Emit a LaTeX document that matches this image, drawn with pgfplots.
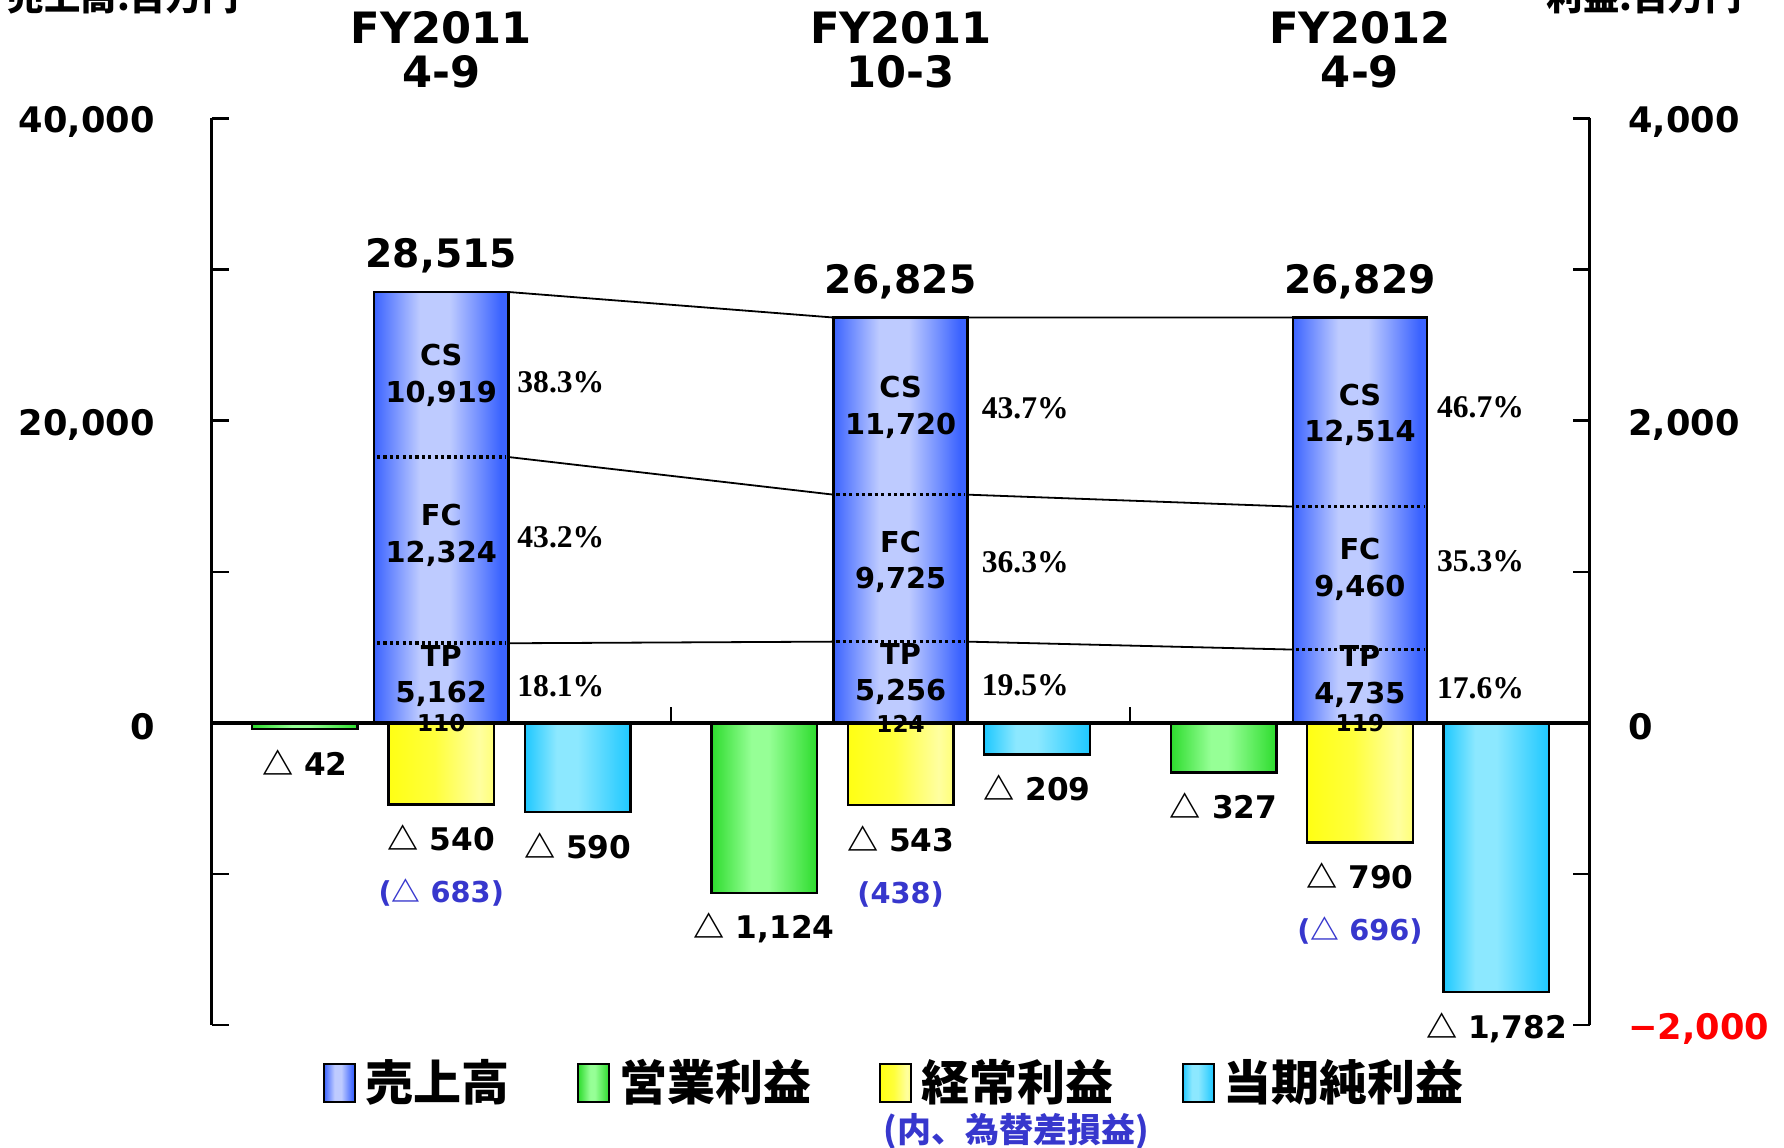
\documentclass[border=0pt]{standalone}
\usepackage{pgfplots}
\pgfplotsset{compat=1.18}
\usepackage{fontspec}
\newfontfamily\dv{DejaVu Sans}
\newfontfamily\jp{Noto Sans CJK JP}
\newfontfamily\tnr{Liberation Serif}
\protected\def\tri{{\jp △}}

\definecolor{sD}{RGB}{60,100,255}
\definecolor{sL}{RGB}{190,203,255}
\definecolor{gD}{RGB}{45,220,45}
\definecolor{gL}{RGB}{150,255,150}
\definecolor{yD}{RGB}{255,255,20}
\definecolor{yM}{RGB}{255,255,60}
\definecolor{yL}{RGB}{255,255,160}
\definecolor{yR}{RGB}{255,255,120}
\definecolor{cD}{RGB}{30,200,255}
\definecolor{cL}{RGB}{140,232,255}
\definecolor{lblue}{RGB}{55,55,205}

% horizontal shadings, the bar covers 25bp..75bp
\pgfdeclarehorizontalshading{salesSh}{100bp}{color(0bp)=(sD); color(25bp)=(sD); color(42bp)=(sL); color(53bp)=(sL); color(72bp)=(sD); color(100bp)=(sD)}
\pgfdeclarehorizontalshading{opSh}{100bp}{color(0bp)=(gD); color(25bp)=(gD); color(44bp)=(gL); color(52bp)=(gL); color(75bp)=(gD); color(100bp)=(gD)}
\pgfdeclarehorizontalshading{ordSh}{100bp}{color(0bp)=(yD); color(25bp)=(yD); color(47bp)=(yM); color(68bp)=(yL); color(75bp)=(yR); color(100bp)=(yR)}
\pgfdeclarehorizontalshading{netSh}{100bp}{color(0bp)=(cD); color(25bp)=(cD); color(40bp)=(cL); color(50bp)=(cL); color(75bp)=(cD); color(100bp)=(cD)}

\newcommand\tickfont{\dv\bfseries\fontsize{8.8}{10}\selectfont}
\newcommand\negfont{\dv\bfseries\fontsize{7.8}{9}\selectfont}

\pgfplotsset{
  legbox/.style={legend image code/.code={\draw[##1, line width=0.5pt] (0pt,-4.75pt) rectangle (7.75pt,4.75pt);}},
  salesbar/.style={ybar, bar width=0.292, bar shift=0, shade, shading=salesSh, draw=black, line width=0.6pt, legbox,
    nodes near coords, point meta=explicit symbolic,
    every node near coord/.append style={font=\dv\bfseries\fontsize{9.8}{11}\selectfont,
      anchor=base, inner sep=0pt, yshift=6pt}},
  opbar/.style={bar shift=-0.297, shade, shading=opSh, draw=black, line width=0.6pt, legbox},
  ordbar/.style={bar shift=0, shade, shading=ordSh, draw=black, line width=0.6pt, legbox},
  netbar/.style={bar shift=0.297, shade, shading=netSh, draw=black, line width=0.6pt, legbox},
  base/.style={at={(52.9pt,30.45pt)}, anchor=south west, scale only axis,
    width=344.5pt, height=226.7pt, xmin=-0.5, xmax=2.5,
    axis x line=none, clip=false, tick align=inside, major tick length=4.25pt,
    every tick/.style={black, line width=0.6pt}, axis line style={line width=0.6pt},
    xtick=\empty, scaled y ticks=false},
}

\begin{document}
\begin{tikzpicture}
% sales, left axis
\begin{axis}[base, axis y line*=left,
  ymin=-20000, ymax=40000,
  ytick={-20000,-10000,0,10000,20000,30000,40000},
  yticklabels={{},{},0,{},{20,000},{},{40,000}},
  yticklabel style={font=\tickfont, inner sep=0pt, anchor=east, xshift=-14pt, yshift=-1pt}]
% one plot per bar so that each bar gets its own shading
\addplot[salesbar] coordinates {(0,28515) [28,515]};
\addplot[salesbar] coordinates {(1,26825) [26,825]};
\addplot[salesbar] coordinates {(2,26829) [26,829]};
% segment borders CS / FC / TP
\addplot[mark=none, black, line width=0.9pt, dash pattern=on 0.8pt off 0.8pt, unbounded coords=jump]
  coordinates {(-0.14,5272) (0.14,5272) (nan,nan) (-0.14,17596) (0.14,17596) (nan,nan)
               (0.86,5380) (1.14,5380) (nan,nan) (0.86,15105) (1.14,15105) (nan,nan)
               (1.86,4854) (2.14,4854) (nan,nan) (1.86,14314) (2.14,14314)};
% connector lines between the bars
\addplot[mark=none, black, line width=0.45pt, unbounded coords=jump]
  coordinates {(0.146,28515) (0.854,26825) (nan,nan) (1.146,26825) (1.854,26829)};
\addplot[mark=none, black, line width=0.45pt, unbounded coords=jump]
  coordinates {(0.146,17596) (0.854,15105) (nan,nan) (1.146,15105) (1.854,14314)};
\addplot[mark=none, black, line width=0.45pt, unbounded coords=jump]
  coordinates {(0.146,5272) (0.854,5380) (nan,nan) (1.146,5380) (1.854,4854)};

\tikzset{seg/.style={font=\dv\bfseries\fontsize{7.2}{9.15}\selectfont, align=center, inner sep=0pt},
         pct/.style={font=\tnr\bfseries\fontsize{7.9}{9}\selectfont, anchor=west, inner sep=0pt},
         fy/.style={font=\dv\bfseries\fontsize{10.8}{10.9}\selectfont, align=center, inner sep=0pt}}
\node[seg] at (axis cs:0,23017) {CS\\10,919};
\node[seg] at (axis cs:0,12432) {FC\\12,324};
\node[seg] at (axis cs:0,3116) {TP\\5,162};
\node[seg] at (axis cs:1,20867) {CS\\11,720};
\node[seg] at (axis cs:1,10665) {FC\\9,725};
\node[seg] at (axis cs:1,3235) {TP\\5,256};
\node[seg] at (axis cs:2,20390) {CS\\12,514};
\node[seg] at (axis cs:2,10149) {FC\\9,460};
\node[seg] at (axis cs:2,3076) {TP\\4,735};

\node[pct] at (axis cs:0.164,22554) {38.3\%};
\node[pct] at (axis cs:0.164,12319) {43.2\%};
\node[pct] at (axis cs:0.164,2441) {18.1\%};
\node[pct] at (axis cs:1.175,20813) {43.7\%};
\node[pct] at (axis cs:1.175,10665) {36.3\%};
\node[pct] at (axis cs:1.175,2474) {19.5\%};
\node[pct] at (axis cs:2.166,20880) {46.7\%};
\node[pct] at (axis cs:2.166,10717) {35.3\%};
\node[pct] at (axis cs:2.166,2283) {17.6\%};

\node[fy] at (axis cs:0,44525) {FY2011\\4-9};
\node[fy] at (axis cs:1,44525) {FY2011\\10-3};
\node[fy] at (axis cs:2,44525) {FY2012\\4-9};
\end{axis}

% profits, right axis
\begin{axis}[base, axis y line*=right,
  ymin=-2000, ymax=4000,
  ytick={-2000,-1000,0,1000,2000,3000,4000},
  yticklabels={{\textcolor{red}{−2,000}},{},0,{},{2,000},{},{4,000}},
  yticklabel style={font=\tickfont, inner sep=0pt, anchor=west, xshift=9.5pt, yshift=-1pt},
  ybar, bar width=0.23,
  nodes near coords, point meta=explicit symbolic,
  every node near coord/.append style={font=\negfont, anchor=base, inner sep=0pt, yshift=-11.5pt},
  legend columns=4,
  legend style={draw=none, fill=none, inner sep=0pt, outer sep=0pt,
    font=\jp\bfseries\fontsize{12}{14}\selectfont,
    at={(0.0808,-0.0637)}, anchor=west,
    nodes={inner sep=0pt},
    /tikz/every odd column/.append style={column sep=2.3pt},
    /tikz/every even column/.append style={column sep=17pt}},
  legend cell align=left]
\addlegendimage{salesbar}
% first bar of each series carries the legend entry
\addplot[opbar] coordinates {(0,-42) [\tri\ 42]};
\addplot[ordbar] coordinates {(0,-540) [\tri\ 540]};
\addplot[netbar] coordinates {(0,-590) [\tri\ 590]};
\addplot[opbar, forget plot] coordinates {(1,-1124) [\tri\ 1,124]};
\addplot[opbar, forget plot] coordinates {(2,-327) [\tri\ 327]};
\addplot[ordbar, forget plot] coordinates {(1,-543) [\tri\ 543]};
\addplot[ordbar, forget plot] coordinates {(2,-790) [\tri\ 790]};
\addplot[netbar, forget plot] coordinates {(1,-209) [\tri\ 209]};
\addplot[netbar, forget plot] coordinates {(2,-1782) [\tri\ 1,782]};
% exchange gain/loss, written under the ordinary profit bars
\addplot[forget plot, bar shift=0, draw=none, fill=none,
  every node near coord/.append style={font=\dv\bfseries\fontsize{7.2}{9}\selectfont, text=lblue, yshift=-13.1pt}]
  coordinates {(0,-540) [(\tri\ 683)] (1,-543) [(438)] (2,-790) [(\tri\ 696)]};
\legend{売上高,営業利益,経常利益,当期純利益}
\draw[line width=0.8pt] (axis cs:-0.5,0) -- (axis cs:2.5,0);
\draw[line width=0.6pt] (axis cs:0.5,0) -- ++(0pt,4pt);
\draw[line width=0.6pt] (axis cs:1.5,0) -- ++(0pt,4pt);
\tikzset{oth/.style={font=\dv\bfseries\fontsize{5.8}{7}\selectfont, inner sep=0pt}}
\node[oth] at (axis cs:0,-3) {110};
\node[oth] at (axis cs:1,-3) {124};
\node[oth] at (axis cs:2,-3) {119};
\end{axis}

\node[anchor=base, font=\jp\bfseries\fontsize{9.1}{10}\selectfont] at (30.85pt,284pt) {売上高:百万円};
\node[anchor=base, font=\jp\bfseries\fontsize{9.1}{10}\selectfont] at (411pt,284pt) {利益:百万円};
\node[anchor=base, font=\jp\bfseries\fontsize{8.5}{10}\selectfont, text=lblue] at (254pt,1.25pt) {(内、為替差損益)};

\pgfresetboundingbox
\path[use as bounding box] (0,0) rectangle (446pt,286.75pt);
\end{tikzpicture}
\end{document}
